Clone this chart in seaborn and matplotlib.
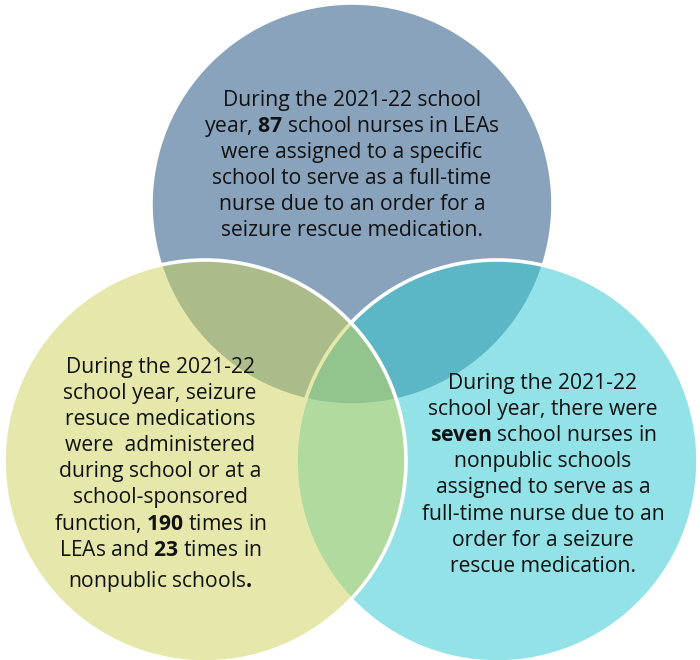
import matplotlib
matplotlib.use("Agg")
import matplotlib.pyplot as plt
from matplotlib.patches import Circle
import seaborn as sns

# circle fills (face colour, alpha) in drawing order: top, right, left
circle_names = ["top", "right", "left"]
circle_colors = ["#8AA3BC", "#31C9D1", "#CDD357"]
circle_alphas = [1.0, 0.52, 0.5]

top_lines = [
    "During the 2021-22 school",
    r"year, $\mathbf{87}$ school nurses in LEAs",
    "were assigned to a specific",
    "school to serve as a full-time",
    "nurse due to an order for a",
    "seizure rescue medication.",
]
left_lines = [
    "During the 2021-22",
    "school year, seizure",
    "resuce medications",
    "were  administered",
    "during school or at a",
    "school-sponsored",
    r"function, $\mathbf{190}$ times in",
    r"LEAs and $\mathbf{23}$ times in",
    r"nonpublic schools$\mathbf{.}$",
]
right_lines = [
    "During the 2021-22",
    "school year, there were",
    r"$\mathbf{seven}$ school nurses in",
    "nonpublic schools",
    "assigned to serve as a",
    "full-time nurse due to an",
    "order for a seizure",
    "rescue medication.",
]

sns.set_theme(style="white")
plt.rcParams["font.family"] = ["Open Sans", "DejaVu Sans"]
plt.rcParams["mathtext.fontset"] = "custom"
plt.rcParams["mathtext.rm"] = "Open Sans"
plt.rcParams["mathtext.bf"] = "Open Sans:bold"

fig = plt.figure(figsize=(7, 6.6), dpi=100)
ax = fig.add_axes([0, 0, 1, 1])
ax.set_xlim(0, 700)
ax.set_ylim(660, 0)
ax.set_aspect("equal")
ax.axis("off")

centers = {"top": (352, 204), "right": (497, 461), "left": (205, 461)}
radius = 201

for i, (name, col, a) in enumerate(zip(circle_names, circle_colors, circle_alphas)):
    face = matplotlib.colors.to_rgba(col, a)
    ax.add_patch(Circle(centers[name], radius, facecolor=face,
                        edgecolor="white", linewidth=2.6, zorder=i + 1))


def draw_block(lines, x, y0, step, extra_last=0.0):
    for i, line in enumerate(lines):
        y = y0 + step * i
        if i == len(lines) - 1:
            y += extra_last
        ax.text(x, y, line, ha="center", va="baseline", fontsize=15.2,
                color="#111111", zorder=10)


draw_block(top_lines, 352, 106, 26.0)
draw_block(left_lines, 160, 373, 26.1, extra_last=5)
draw_block(right_lines, 543, 389, 26.1)

fig.savefig("out.png", dpi=100, facecolor="white")
